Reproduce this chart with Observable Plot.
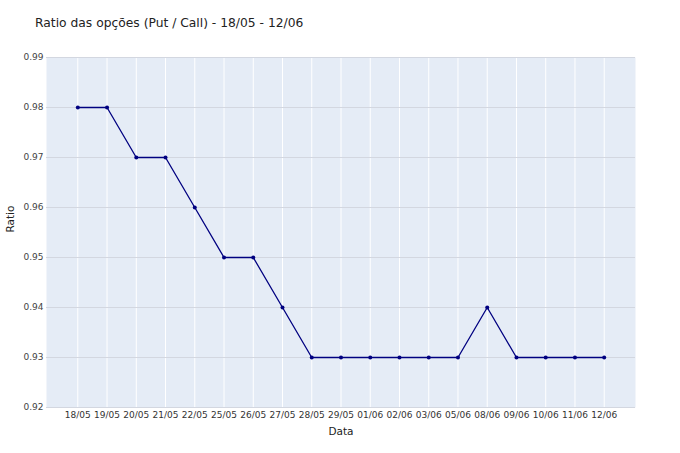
<!DOCTYPE html>
<html>
<head>
<meta charset="utf-8">
<script src="https://cdn.jsdelivr.net/npm/d3@7"></script>
<script src="https://cdn.jsdelivr.net/npm/@observablehq/plot@0.6"></script>
<style>
  html, body { margin: 0; padding: 0; background: #fff; }
  #wrap { position: relative; width: 680px; height: 453px; font-family: "DejaVu Sans", Verdana, sans-serif; }
  #title { position: absolute; left: 35px; top: 16px; font-size: 12.3px; line-height: 15px; color: #222; white-space: nowrap; }
</style>
</head>
<body>
<div id="wrap"><div id="title">Ratio das opções (Put / Call) - 18/05 - 12/06</div></div>
<script>
const dates = ["18/05","19/05","20/05","21/05","22/05","25/05","26/05","27/05","28/05","29/05","01/06","02/06","03/06","05/06","08/06","09/06","10/06","11/06","12/06"];
const ratios = [0.98,0.98,0.97,0.97,0.96,0.95,0.95,0.94,0.93,0.93,0.93,0.93,0.93,0.93,0.94,0.93,0.93,0.93,0.93];
const yTicks = [0.92,0.93,0.94,0.95,0.96,0.97,0.98,0.99];

const data = dates.map((d, i) => ({date: d, ratio: ratios[i]}));

const chart = Plot.plot({
  width: 680,
  height: 453,
  marginLeft: 46,
  marginRight: 45,
  marginTop: 57,
  marginBottom: 46,
  style: {fontFamily: '"DejaVu Sans", Verdana, sans-serif', fontSize: "9px", color: "#444", background: "#fff"},
  x: {type: "point", domain: dates, padding: 1.07, round: false, label: null},
  y: {domain: [0.92, 0.99], label: null},
  marks: [
    Plot.frame({fill: "#E5ECF6", stroke: null}),
    Plot.gridX(dates, {stroke: "#fff", strokeOpacity: 1, strokeWidth: 1}),
    Plot.gridY(yTicks, {stroke: "#d3d7e0", strokeOpacity: 1, strokeWidth: 1}),
    Plot.axisX(dates, {tickSize: 0, tickPadding: 4, fontSize: 9, fill: "#333"}),
    Plot.axisY(yTicks, {tickSize: 0, tickPadding: 3, fontSize: 9, fill: "#444", tickFormat: d3.format(".2f")}),
    Plot.line(data, {x: "date", y: "ratio", stroke: "#000080", strokeWidth: 1.3}),
    Plot.dot(data, {x: "date", y: "ratio", r: 2, fill: "#000080", stroke: null}),
    Plot.text(["Data"], {frameAnchor: "bottom", dy: 27, fontSize: 10.5, fill: "#222"}),
    Plot.text(["Ratio"], {frameAnchor: "left", dx: -36, rotate: -90, fontSize: 10.5, fill: "#222"})
  ]
});
document.getElementById("wrap").appendChild(chart);
</script>
</body>
</html>
